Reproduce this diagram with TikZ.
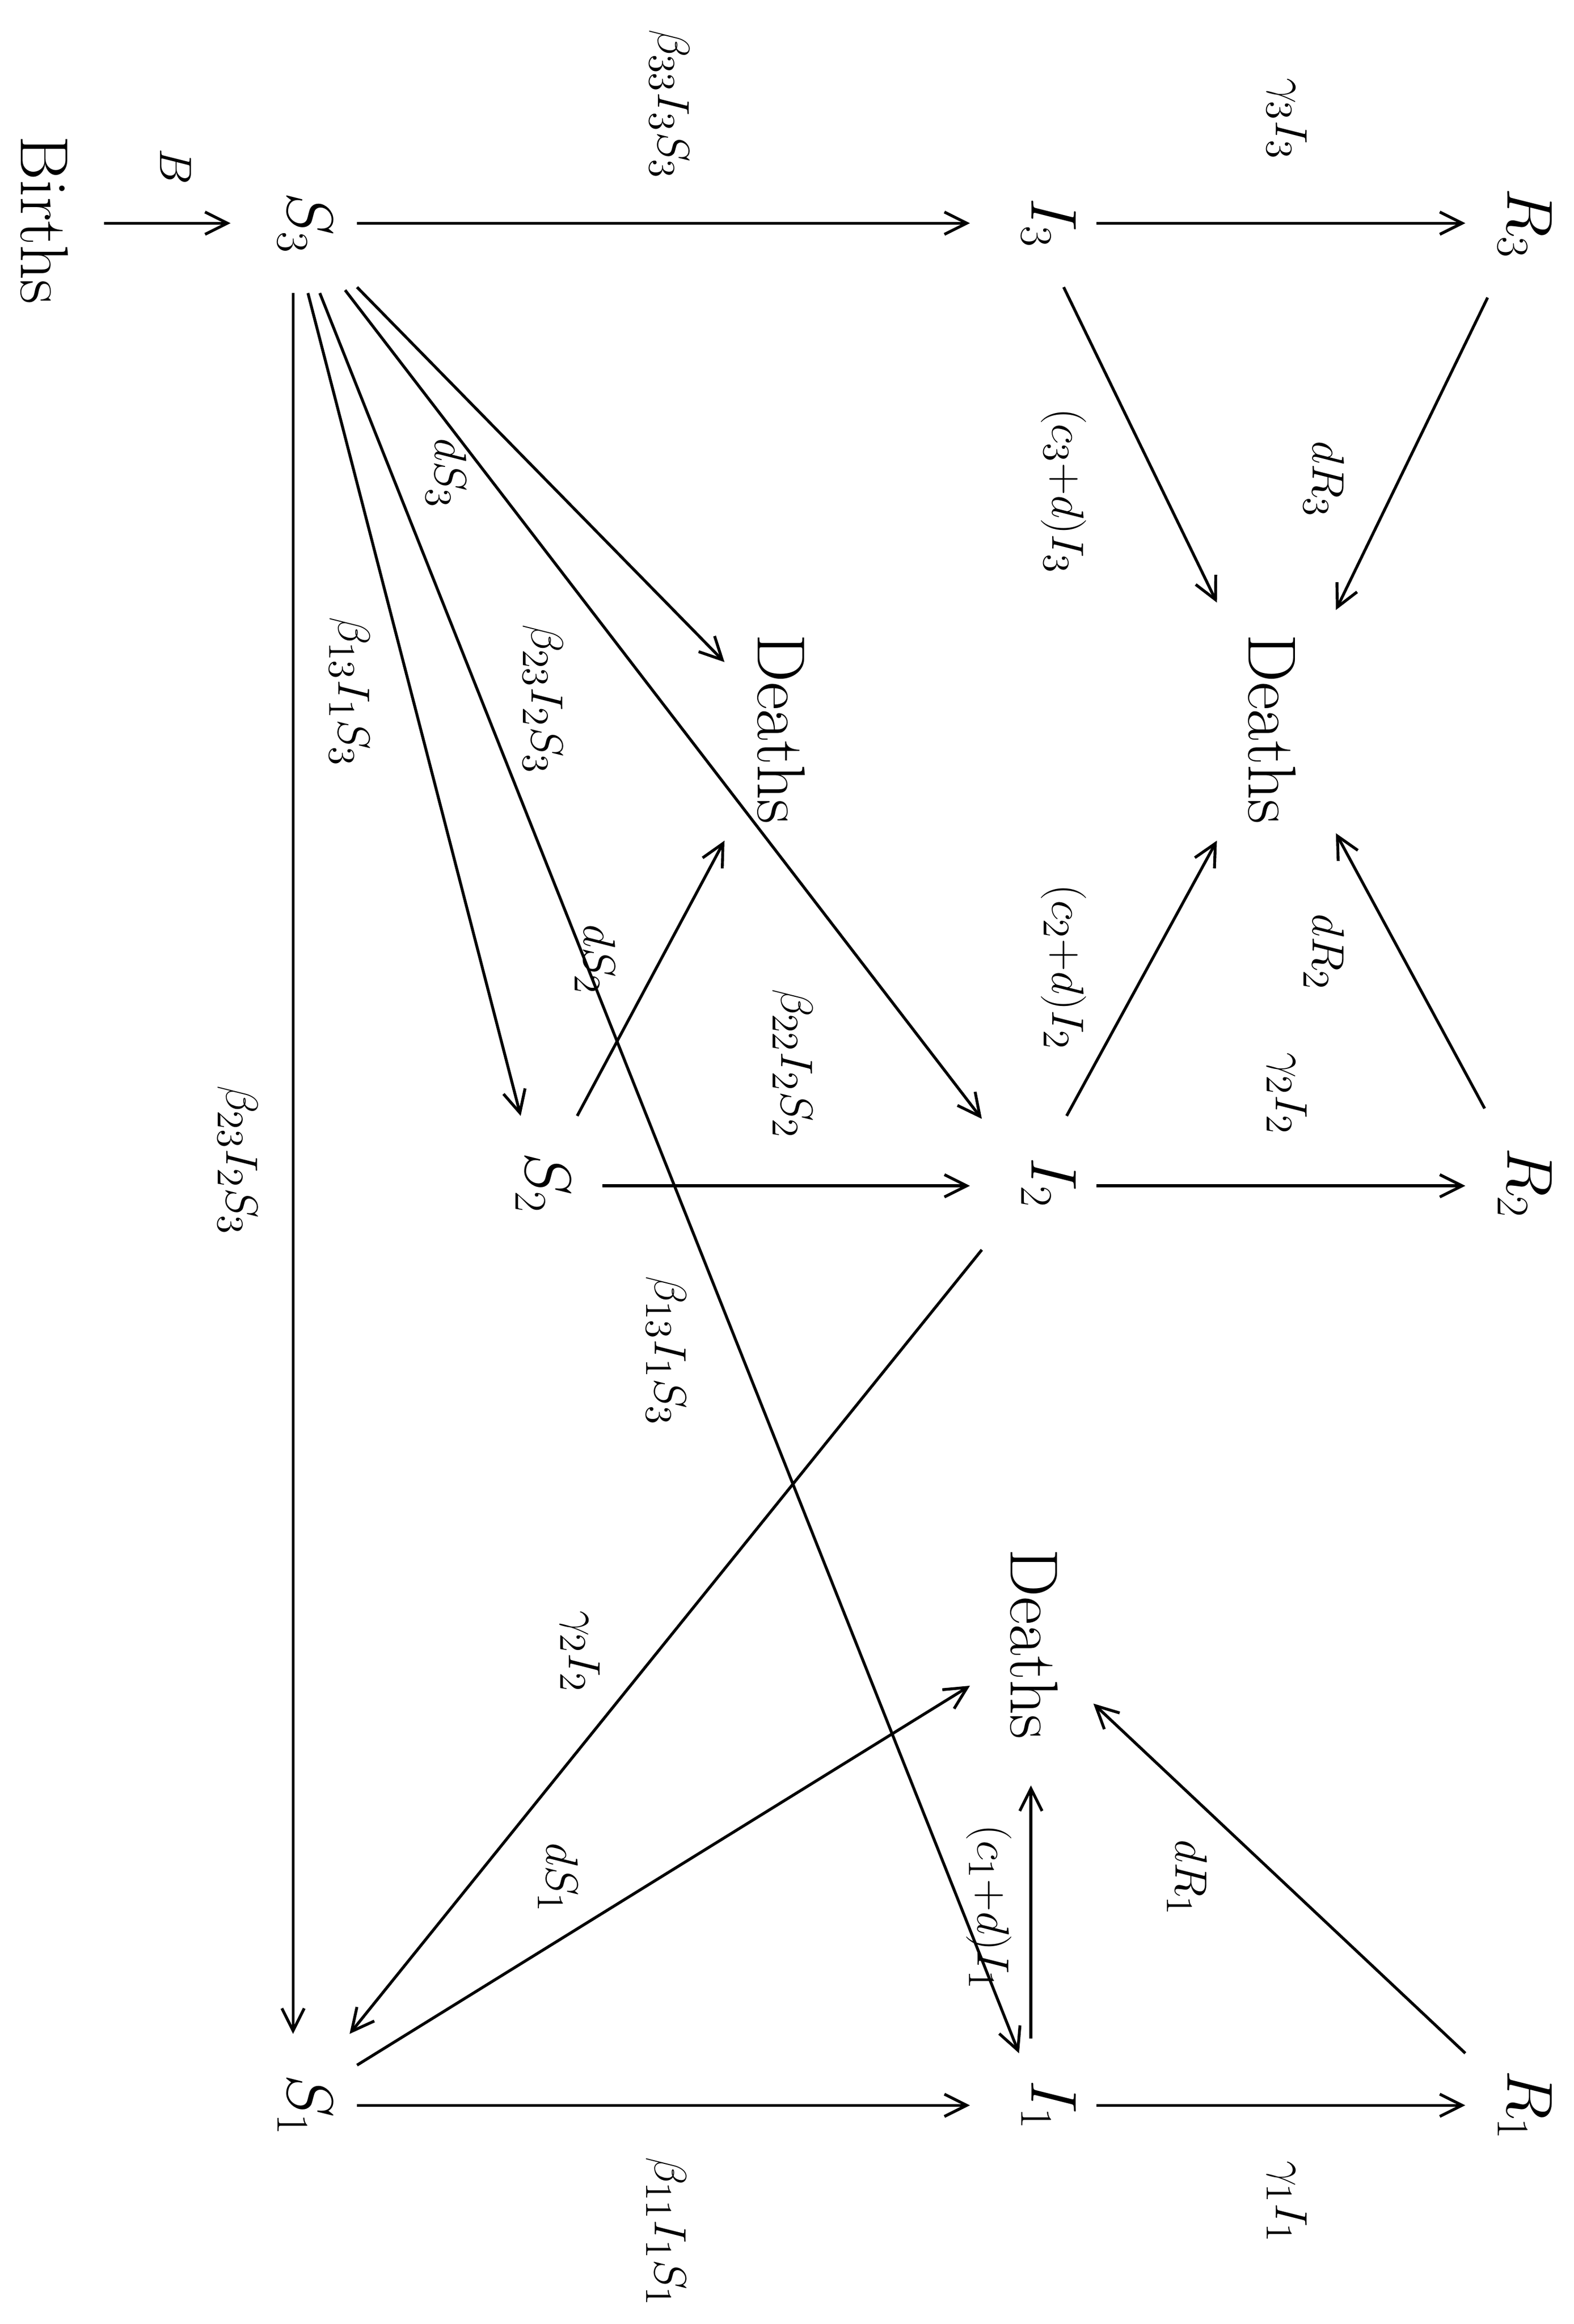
\documentclass[tikz,border=0pt]{standalone}
\usetikzlibrary{arrows.meta}
\begin{document}
\begin{tikzpicture}[x=0.02cm,y=-0.02cm,
  comp/.style={rotate=-90,font=\fontsize{26}{30}\selectfont},
  lab/.style={rotate=-90,font=\fontsize{19}{22}\selectfont},
  flow/.style={-{Straight Barb[length=3mm,width=3mm]},line width=1.1pt}]
\useasboundingbox (0,0) rectangle (1058,1562);
\node[comp] (births) at (30,148) {Births};
\node[comp] (S3) at (205,150) {$S_3$};
\node[comp] (I3) at (705,150) {$I_3$};
\node[comp] (R3) at (1025,150) {$R_3$};
\node[comp] (S2) at (365,795) {$S_2$};
\node[comp] (I2) at (705,795) {$I_2$};
\node[comp] (R2) at (1025,795) {$R_2$};
\node[comp] (S1) at (205,1415) {$S_1$};
\node[comp] (I1) at (705,1415) {$I_1$};
\node[comp] (R1) at (1025,1415) {$R_1$};
\node[comp] (D3) at (525,490) {Deaths};
\node[comp] (DR) at (855,490) {Deaths};
\node[comp] (D1) at (695,1105) {Deaths};

\draw[flow] (70,150) -- (155,150); \node[lab] (lB) at (118,112) {$B$};
\draw[flow] (240,150) -- (652,150); \node[lab] (l1) at (450,70) {$\beta_{33}I_3S_3$};
\draw[flow] (737,150) -- (985,150); \node[lab] (l2) at (865,80) {$\gamma_3I_3$};
\draw[flow] (197,197) -- (197,1367); \node[lab] (l3) at (160,780) {$\beta_{23}I_2S_3$};
\draw[flow] (207,197) -- (350,750); \node[lab] (l4) at (235,465) {$\beta_{13}I_1S_3$};
\draw[flow] (215,197) -- (685,1380); \node[lab] (l5) at (448,908) {$\beta_{13}I_1S_3$};
\draw[flow] (232,195) -- (660,752); \node[lab] (l6) at (365,470) {$\beta_{23}I_2S_3$};
\draw[flow] (240,193) -- (487,445); \node[lab] (l7) at (300,318) {$dS_3$};
\draw[flow] (388,750) -- (487,565); \node[lab] (l8) at (400,645) {$dS_2$};
\draw[flow] (405,797) -- (652,797); \node[lab] (l9) at (533,715) {$\beta_{22}I_2S_2$};
\draw[flow] (715,193) -- (818,405); \node[lab] (l10) at (715,330) {$(c_3{+}d)I_3$};
\draw[flow] (1000,200) -- (898,410); \node[lab] (l11) at (890,322) {$dR_3$};
\draw[flow] (717,750) -- (818,565); \node[lab] (l12) at (715,650) {$(c_2{+}d)I_2$};
\draw[flow] (998,745) -- (898,560); \node[lab] (l13) at (890,640) {$dR_2$};
\draw[flow] (737,797) -- (985,797); \node[lab] (l14) at (865,735) {$\gamma_2I_2$};
\draw[flow] (660,840) -- (235,1367); \node[lab] (l15) at (390,1110) {$\gamma_2I_2$};
\draw[flow] (240,1388) -- (652,1133); \node[lab] (l16) at (375,1262) {$dS_1$};
\draw[flow] (693,1370) -- (693,1200); \node[lab] (l17) at (665,1282) {$(c_1{+}d)I_1$};
\draw[flow] (985,1380) -- (735,1145); \node[lab] (l18) at (798,1262) {$dR_1$};
\draw[flow] (240,1415) -- (652,1415); \node[lab] (l19) at (448,1500) {$\beta_{11}I_1S_1$};
\draw[flow] (737,1415) -- (985,1415); \node[lab] (l20) at (865,1480) {$\gamma_1I_1$};
\end{tikzpicture}
\end{document}
